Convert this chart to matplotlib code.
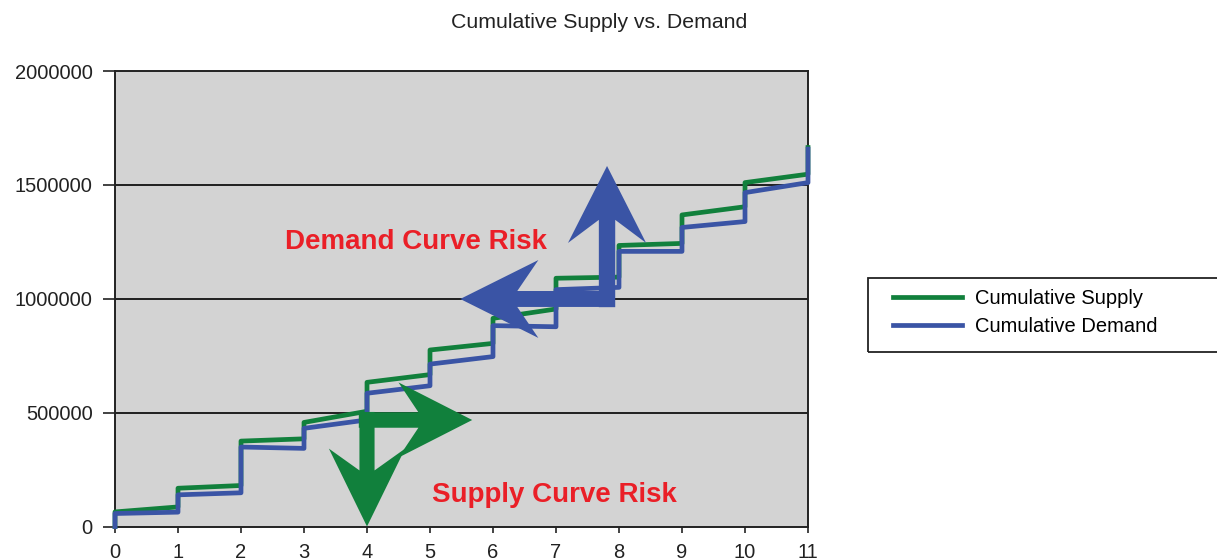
import matplotlib
matplotlib.use("Agg")
import matplotlib.pyplot as plt
from matplotlib.patches import FancyArrow, Rectangle

# ---------- data ----------
periods = list(range(12))
supply_start = [64000, 168000, 375000, 457000, 633000, 775000, 914000, 1090000, 1234000, 1368000, 1510000]
supply_end = [86000, 180000, 385000, 506000, 667000, 804000, 955000, 1095000, 1243000, 1404000, 1547000]
supply_final = 1664000
demand_start = [57000, 139000, 349000, 431000, 585000, 713000, 882000, 1040000, 1208000, 1313000, 1466000]
demand_end = [63000, 148000, 343000, 468000, 618000, 746000, 877000, 1050000, 1208000, 1339000, 1510000]
demand_final = 1657000
y_ticks = [0, 500000, 1000000, 1500000, 2000000]

GREEN = "#11803c"
BLUE = "#3a54a5"
RED = "#ea1f27"

plt.rcParams["font.family"] = ["Liberation Sans", "DejaVu Sans"]


def staircase(starts, ends, final):
    """Cumulative curve: sloped segment inside each period, jump at each integer."""
    xs, ys = [0], [0]
    for i, (s, e) in enumerate(zip(starts, ends)):
        xs += [i, i + 1]
        ys += [s, e]
    xs.append(len(starts))
    ys.append(final)
    return xs, ys


fig = plt.figure(figsize=(12.17, 5.6), dpi=100)
ax = fig.add_axes([115 / 1217, 33.5 / 560, 693 / 1217, 455.5 / 560])
ax.set_facecolor("#d3d3d3")

sx, sy = staircase(supply_start, supply_end, supply_final)
dx, dy = staircase(demand_start, demand_end, demand_final)
ax.plot(sx, sy, color=GREEN, lw=3.4, label="Cumulative Supply", clip_on=False, zorder=3)
ax.plot(dx, dy, color=BLUE, lw=3.4, label="Cumulative Demand", clip_on=False, zorder=4)

ax.set_xlim(0, 11)
ax.set_ylim(0, 2000000)
ax.set_xticks(periods)
ax.set_yticks(y_ticks)
ax.set_yticklabels([str(v) for v in y_ticks])
ax.tick_params(axis="y", length=9, width=1.2, pad=7, labelsize=14.5, colors="#222222")
ax.tick_params(axis="x", length=4, width=1.2, pad=8, labelsize=14.5, colors="#222222")
for v in y_ticks[1:-1]:
    ax.axhline(v, color="#111111", lw=1.3, zorder=1)
for sp in ax.spines.values():
    sp.set_color("#222222")
    sp.set_linewidth(1.4)

# ---------- risk arrows ----------
ax.add_patch(FancyArrow(4.0, 503000, 0, -503000, width=0.24, head_width=1.21,
                        head_length=342000, overhang=0.28, length_includes_head=True,
                        color=GREEN, lw=0, zorder=5))
ax.add_patch(FancyArrow(3.87, 467600, 1.80, 0, width=68000, head_width=330000,
                        head_length=1.17, overhang=0.27, length_includes_head=True,
                        color=GREEN, lw=0, zorder=5))
ax.add_patch(FancyArrow(7.81, 963000, 0, 620000, width=0.26, head_width=1.24,
                        head_length=338000, overhang=0.3, length_includes_head=True,
                        color=BLUE, lw=0, zorder=5))
ax.add_patch(FancyArrow(7.93, 999000, -2.45, 0, width=70000, head_width=342000,
                        head_length=1.24, overhang=0.27, length_includes_head=True,
                        color=BLUE, lw=0, zorder=5))

ax.text(4.78, 1250000, "Demand Curve Risk", color=RED, fontsize=20,
        fontweight="bold", ha="center", va="center", zorder=6)
ax.text(6.98, 140000, "Supply Curve Risk", color=RED, fontsize=20,
        fontweight="bold", ha="center", va="center", zorder=6)

fig.text(599 / 1217, 1 - 22 / 560, "Cumulative Supply vs. Demand",
         fontsize=15.3, color="#222222", ha="center", va="center")

# legend box runs off the right edge of the picture
fig.patches.append(Rectangle((868 / 1217, 1 - 352 / 560), 360 / 1217, 74 / 560,
                             transform=fig.transFigure, fill=False,
                             edgecolor="#222222", lw=1.3))
fig.legend(loc="upper left", bbox_to_anchor=(893 / 1217, 1 - 289 / 560),
           frameon=False, fontsize=14.5, borderpad=0, borderaxespad=0,
           handlelength=3.45, handletextpad=0.6, labelspacing=0.45)

fig.savefig("out.png", dpi=100)
